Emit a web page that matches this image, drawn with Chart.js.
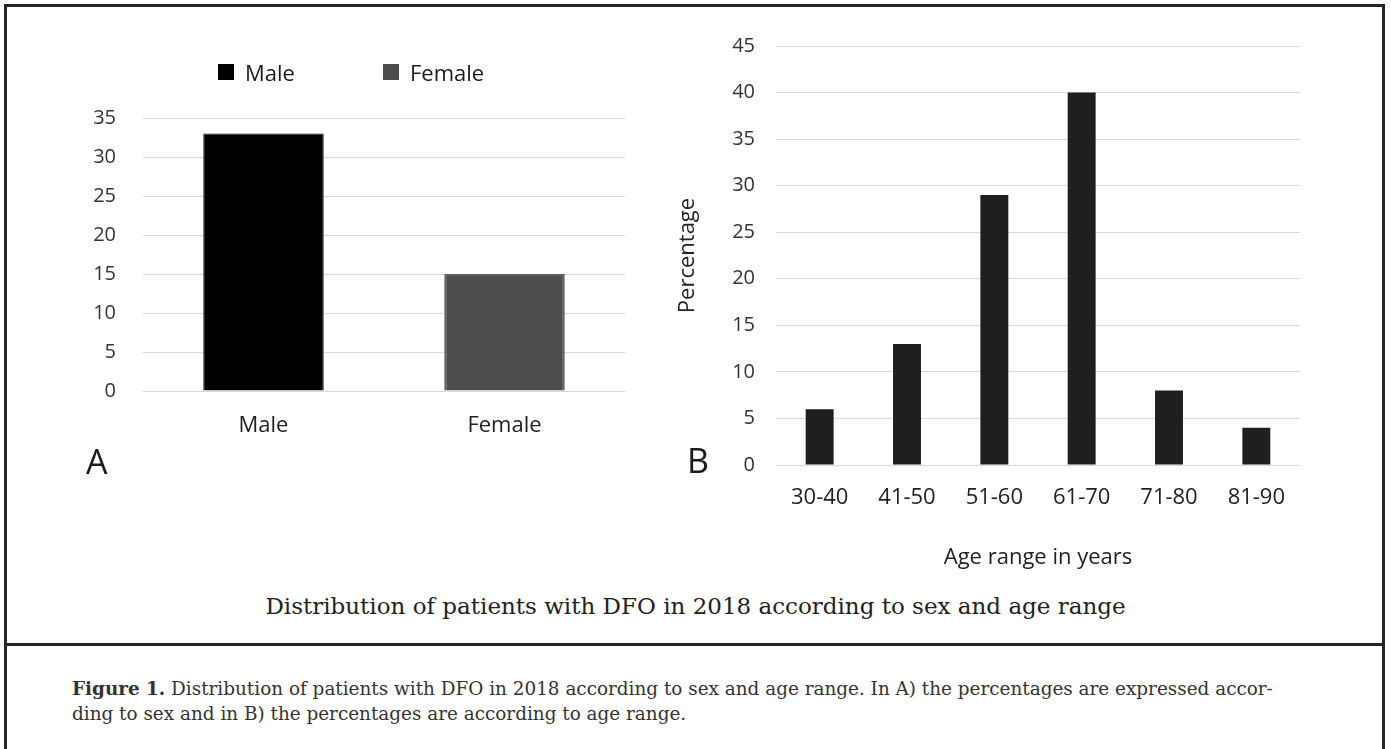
<!DOCTYPE html>
<html lang="en">
<head>
<meta charset="UTF-8">
<title>Distribution of patients with DFO in 2018</title>
<script src="https://cdn.jsdelivr.net/npm/chart.js@4"></script>
<style>
  html, body { margin: 0; padding: 0; background: #fff; }
  body { width: 1391px; height: 749px; position: relative; overflow: hidden; font-family: 'Open Sans', sans-serif; color: #1a1a1a; }
  .frame { position: absolute; left: 4px; top: 4px; width: 1375px; height: 760px; border: 3px solid #262626; border-bottom: none; }
  .divider { position: absolute; left: 4px; top: 643px; width: 1381px; height: 3px; background: #262626; }
  #wrapA { position: absolute; left: 40px; top: 0; width: 600px; height: 480px; }
  #wrapB { position: absolute; left: 650px; top: 0; width: 690px; height: 590px; }
  .panel { position: absolute; font-size: 34px; line-height: 1; }
  .legend { position: absolute; top: 61px; left: 218px; font-size: 22px; line-height: 1; display: flex; align-items: center; }
  .legend i { display: inline-block; width: 16px; height: 16px; margin-right: 11px; }
  .legend span { margin-right: 88px; }
  .title { position: absolute; left: 0; width: 1391px; top: 591px; text-align: center; font-family: 'DejaVu Serif', serif; font-size: 23px; line-height: 30px; color: #222; }
  .note { position: absolute; left: 72px; top: 676px; font-family: 'DejaVu Serif', serif; font-size: 18.4px; line-height: 25px; color: #333; white-space: nowrap; }
</style>
</head>
<body>
<div class="frame"></div>
<div class="divider"></div>

<!-- A: sex -->
<div id="wrapA"><canvas id="chartA" width="600" height="480"></canvas></div>
<div class="legend"><i style="background:#000"></i><span>Male</span><i style="background:#4d4d4d"></i>Female</div>
<div class="panel" style="left:86px; top:444px;">A</div>

<!-- B: age range -->
<div id="wrapB"><canvas id="chartB" width="690" height="590"></canvas></div>
<div class="panel" style="left:687px; top:443px;">B</div>

<div class="title">Distribution of patients with DFO in 2018 according to sex and age range</div>
<div class="note"><b>Figure 1.</b> Distribution of patients with DFO in 2018 according to sex and age range. In A) the percentages are expressed accor-<br>ding to sex and in B) the percentages are according to age range.</div>

<script>
// data
const sexLabels = ['Male', 'Female'];
const maleValues = [33, null];
const femaleValues = [null, 15];
const sexMax = 35;

const ageLabels = ['30-40', '41-50', '51-60', '61-70', '71-80', '81-90'];
const ageValues = [6, 13, 29, 40, 8, 4];
const ageMax = 45;

const tickStep = 5;

Chart.defaults.font.family = "'Open Sans'";
Chart.defaults.color = '#222';
Chart.defaults.animation = false;

// A
new Chart(document.getElementById('chartA'), {
  type: 'bar',
  data: {
    labels: sexLabels,
    datasets: [
      { label: 'Male', data: maleValues, backgroundColor: '#000', borderColor: '#1a1a1a', borderWidth: 1 },
      { label: 'Female', data: femaleValues, backgroundColor: '#4d4d4d', borderColor: '#5e5e5e', borderWidth: 2 }
    ]
  },
  options: {
    responsive: false,
    layout: { padding: { top: 118, right: 15, left: 0, bottom: 0 } },
    datasets: { bar: { grouped: false, barPercentage: 0.5, categoryPercentage: 1 } },
    plugins: { legend: { display: false }, tooltip: { enabled: false } },
    scales: {
      x: {
        grid: { display: false },
        border: { display: false },
        ticks: { font: { size: 22 }, color: '#222', padding: 14 },
        afterFit: s => { s.height = 89; }
      },
      y: {
        min: 0, max: sexMax,
        ticks: { stepSize: tickStep, font: { size: 20 }, color: '#333', padding: 27 },
        grid: { color: '#d9d9d9', drawTicks: false },
        border: { display: false },
        afterFit: s => { s.width = 103; }
      }
    }
  }
});

// B
new Chart(document.getElementById('chartB'), {
  type: 'bar',
  data: {
    labels: ageLabels,
    datasets: [
      { label: 'Percentage', data: ageValues, backgroundColor: '#1f1f1f' }
    ]
  },
  options: {
    responsive: false,
    layout: { padding: { top: 46, right: 40, left: 0, bottom: 0 } },
    datasets: { bar: { barPercentage: 0.32, categoryPercentage: 1 } },
    plugins: { legend: { display: false }, tooltip: { enabled: false } },
    scales: {
      x: {
        grid: { display: false },
        border: { display: false },
        ticks: { font: { size: 22 }, color: '#222', padding: 12 },
        title: { display: true, text: 'Age range in years', font: { size: 22 }, color: '#222', padding: { top: 0, bottom: 19 } },
        afterFit: s => { s.height = 125; }
      },
      y: {
        min: 0, max: ageMax,
        ticks: { stepSize: tickStep, font: { size: 20 }, color: '#333', padding: 21 },
        grid: { color: '#d9d9d9', drawTicks: false },
        border: { display: false },
        title: { display: true, text: 'Percentage', font: { size: 22 }, color: '#222', padding: { top: 25, bottom: 0 } },
        afterFit: s => { s.width = 126; }
      }
    }
  }
});
</script>
</body>
</html>
